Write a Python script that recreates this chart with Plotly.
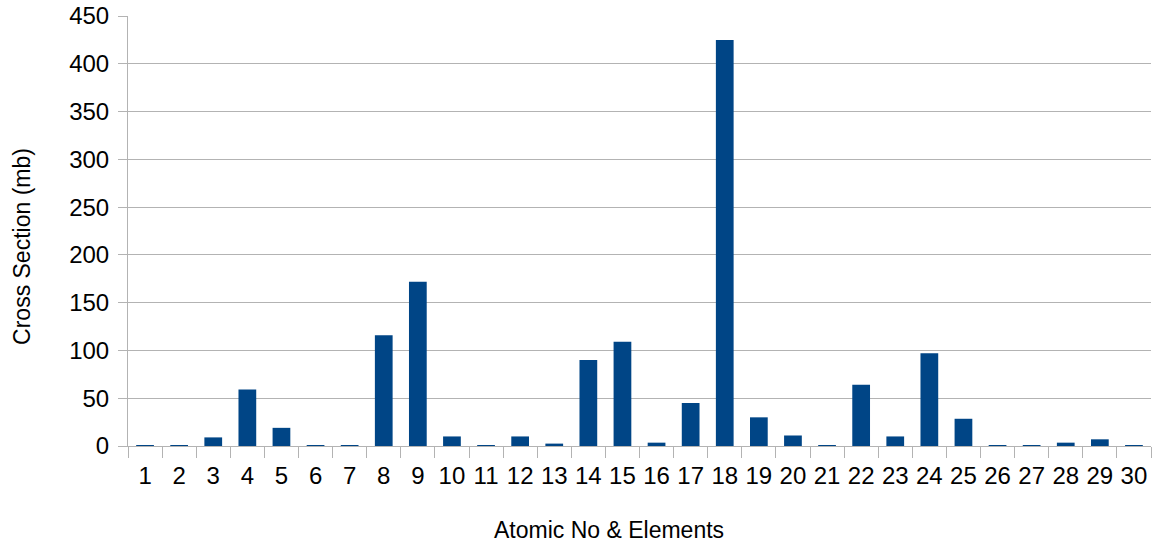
import plotly.graph_objects as go

categories = [str(i) for i in range(1, 31)]
values = [0.5, 1, 9, 59, 19, 1, 1, 116, 172, 10,
          0.3, 10, 2.5, 90, 109, 3.5, 45, 425, 30, 11,
          1, 64, 10, 97, 28.5, 0.5, 0.5, 3.5, 7, 0.5]
y_ticks = [0, 50, 100, 150, 200, 250, 300, 350, 400, 450]
x_title = "Atomic No & Elements"
y_title = "Cross Section (mb)"

fig = go.Figure(go.Bar(x=categories, y=values, marker_color="#004586",
                       marker_line_width=0))
font = "Liberation Sans, Arial, sans-serif"
fig.update_layout(
    width=1157, height=549,
    margin=dict(l=128, r=6, t=16, b=103),
    plot_bgcolor="white", paper_bgcolor="white",
    bargap=0.48, showlegend=False,
    font=dict(family=font, color="black"),
)
fig.update_xaxes(
    type="category", tickson="boundaries", ticks="outside", ticklen=11,
    tickcolor="#b3b3b3", tickwidth=1, showgrid=False, showline=True,
    linecolor="#b3b3b3", tickfont=dict(size=24, family=font), tickangle=0,
    ticklabelstandoff=8, automargin=False,
)
fig.update_yaxes(
    range=[0, 450], tickvals=y_ticks, ticks="outside", ticklen=9,
    tickcolor="#b3b3b3", showgrid=True, gridcolor="#b3b3b3", showline=True,
    linecolor="#b3b3b3", zeroline=False, tickfont=dict(size=24, family=font),
    ticklabelstandoff=4, automargin=False,
)
fig.add_annotation(text=x_title, xref="paper", yref="paper", x=0.470, y=-0.1965,
                   xanchor="center", yanchor="middle", showarrow=False,
                   font=dict(size=23, family=font, color="black"))
fig.add_annotation(text=y_title, xref="paper", yref="paper", x=-0.1036, y=0.463,
                   xanchor="center", yanchor="middle", showarrow=False, textangle=-90,
                   font=dict(size=23, family=font, color="black"))
fig.write_html("out.html")
